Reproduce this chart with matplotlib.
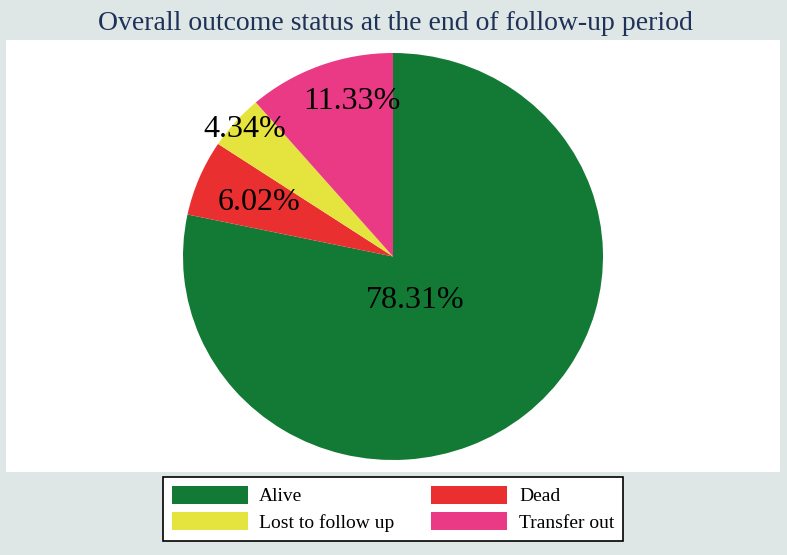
import numpy as np
import matplotlib
matplotlib.use("Agg")
from matplotlib import pyplot as plt

# data
labels = ["Alive", "Dead", "Lost to follow up", "Transfer out"]
percent = [78.31, 6.02, 4.34, 11.33]
colors = ["#137a35", "#e92f30", "#e5e43f", "#ea3a86"]

# label placement (fraction of radius, angle shift in degrees)
lab_r = [0.24, 0.69, 0.94, 0.785]
lab_shift = [-13, 0, 0, -6]

plt.rcParams["font.family"] = ["Liberation Serif", "DejaVu Serif"]

W, H = 787, 555
fig = plt.figure(figsize=(W / 100, H / 100), dpi=100)
fig.patch.set_facecolor("#dee6e6")

# white plot region
bg = fig.add_axes([6 / W, 1 - 472 / H, 774 / W, 432 / H], zorder=0)
bg.set_facecolor("white")
bg.set_xticks([])
bg.set_yticks([])
for sp in bg.spines.values():
    sp.set_visible(False)

ax = fig.add_axes([183 / W, 1 - 460 / H, 420 / W, 407 / H], zorder=1)
wedges, _ = ax.pie(percent, colors=colors, startangle=90, counterclock=False,
                   wedgeprops=dict(linewidth=0))
ax.set_aspect("auto")
ax.set_xlim(-1, 1)
ax.set_ylim(-1, 1)
ax.axis("off")

for w, p, r, s in zip(wedges, percent, lab_r, lab_shift):
    mid = np.deg2rad((w.theta1 + w.theta2) / 2 + s)
    ax.text(r * np.cos(mid), r * np.sin(mid), f"{p:.2f}%", ha="center",
            va="center", fontsize=23, color="black")

fig.text(395 / W, 1 - 23 / H, "Overall outcome status at the end of follow-up period",
         ha="center", va="center", fontsize=20, color="#1e3157")

# row-wise order like the original legend
order = [0, 2, 1, 3]
leg = fig.legend([wedges[i] for i in order], [labels[i] for i in order],
                 ncol=2, loc="upper left",
                 bbox_to_anchor=(163 / W, 1 - 477 / H), fontsize=14,
                 frameon=True, fancybox=False, edgecolor="black", framealpha=1,
                 handlelength=3.9, handleheight=1.05, handletextpad=0.6,
                 columnspacing=1.9, labelspacing=0.35, borderpad=0.45,
                 borderaxespad=0)
leg.get_frame().set_linewidth(1.2)

fig.savefig("out.png", dpi=100, facecolor=fig.get_facecolor())
